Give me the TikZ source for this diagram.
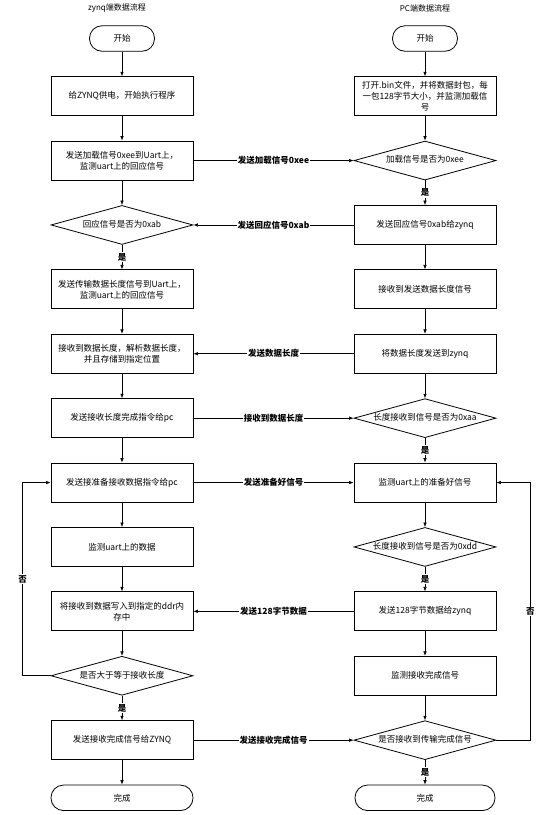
\documentclass[tikz,border=0pt]{standalone}
\usepackage{fontspec}
\setmainfont{Noto Sans CJK SC}
\usepackage{tikz}
\usetikzlibrary{arrows.meta,positioning,shapes.geometric}

\begin{document}
\begin{tikzpicture}[
  x=1pt, y=1pt,
  font=\fontsize{8.5}{11}\selectfont,
  node distance=24.6pt,
  box/.style={draw, line width=0.8pt, align=center, inner sep=2pt, minimum width=142pt, minimum height=39pt},
  term/.style={draw, line width=0.8pt, rounded corners=12.5pt, minimum width=65pt, minimum height=25.5pt, inner sep=2pt},
  dec/.style={draw, line width=0.8pt, diamond, aspect=3.64, inner sep=0pt, text height=6pt, text depth=1.5pt, minimum width=142pt, minimum height=39pt},
  arr/.style={-{Latex[length=4.5pt,width=3.5pt]}, line width=0.6pt},
  lbl/.style={fill=white, inner sep=1pt, font=\fontsize{8.5}{10}\selectfont\bfseries},
  ttl/.style={font=\fontsize{8}{10}\selectfont}
]
  \useasboundingbox (0,0) rectangle (555,-815);

  % zynq side
  \node[term] (lstart) at (122,-38.5) {开始};
  \node[ttl, above=9.5pt of lstart, xshift=-5pt] (ltitle) {zynq端数据流程};
  \node[box, below=of lstart] (lbox1) {给ZYNQ供电，开始执行程序};
  \node[box, below=of lbox1] (lbox2) {发送加载信号0xee到Uart上，\\监测uart上的回应信号};
  \node[dec, below=of lbox2] (ldia1) {回应信号是否为0xab};
  \node[box, below=of ldia1] (lbox3) {发送传输数据长度信号到Uart上，\\监测uart上的回应信号};
  \node[box, below=of lbox3] (lbox4) {接收到数据长度，解析数据长度，\\并且存储到指定位置};
  \node[box, below=of lbox4] (lbox5) {发送接收长度完成指令给pc};
  \node[box, below=of lbox5] (lbox6) {发送接准备接收数据指令给pc};
  \node[box, below=of lbox6] (lbox7) {监测uart上的数据};
  \node[box, below=of lbox7] (lbox8) {将接收到数据写入到指定的ddr内\\存中};
  \node[dec, below=of lbox8] (ldia2) {是否大于等于接收长度};
  \node[box, below=of ldia2] (lbox9) {发送接收完成信号给ZYNQ};
  \node[term, below=of lbox9, minimum width=142pt] (lend) {完成};

  % PC side
  \node[term, right=237.2pt of lstart] (rstart) {开始};
  \node[ttl, above=9.5pt of rstart] (rtitle) {PC端数据流程};
  \node[box, below=of rstart] (rbox1) {打开.bin文件，并将数据封包，每\\一包128字节大小，并监测加载信\\号};
  \node[dec, below=of rbox1] (rdia1) {加载信号是否为0xee};
  \node[box, below=of rdia1] (rbox2) {发送回应信号0xab给zynq};
  \node[box, below=of rbox2] (rbox3) {接收到发送数据长度信号};
  \node[box, below=of rbox3] (rbox4) {将数据长度发送到zynq};
  \node[dec, below=of rbox4] (rdia2) {长度接收到信号是否为0xaa};
  \node[box, below=of rdia2] (rbox5) {监测uart上的准备好信号};
  \node[dec, below=of rbox5] (rdia3) {长度接收到信号是否为0xdd};
  \node[box, below=of rdia3] (rbox6) {发送128字节数据给zynq};
  \node[box, below=of rbox6] (rbox7) {监测接收完成信号};
  \node[dec, below=of rbox7] (rdia4) {是否接收到传输完成信号};
  \node[term, below=of rdia4, minimum width=140pt] (rend) {完成};

  % zynq flow
  \draw[arr] (lstart) -- (lbox1);
  \draw[arr] (lbox1) -- (lbox2);
  \draw[arr] (lbox2) -- (ldia1);
  \draw[arr] (ldia1) -- node[lbl]{是} (lbox3);
  \draw[arr] (lbox3) -- (lbox4);
  \draw[arr] (lbox4) -- (lbox5);
  \draw[arr] (lbox5) -- (lbox6);
  \draw[arr] (lbox6) -- (lbox7);
  \draw[arr] (lbox7) -- (lbox8);
  \draw[arr] (lbox8) -- (ldia2);
  \draw[arr] (ldia2) -- node[lbl]{是} (lbox9);
  \draw[arr] (lbox9) -- (lend);
  \draw[arr] (ldia2.west) -- ++(-28pt,0) |- node[lbl, pos=0.25]{否} (lbox6.west);

  % PC flow
  \draw[arr] (rstart) -- (rbox1);
  \draw[arr] (rbox1) -- (rdia1);
  \draw[arr] (rdia1) -- node[lbl]{是} (rbox2);
  \draw[arr] (rbox2) -- (rbox3);
  \draw[arr] (rbox3) -- (rbox4);
  \draw[arr] (rbox4) -- (rdia2);
  \draw[arr] (rdia2) -- node[lbl]{是} (rbox5);
  \draw[arr] (rbox5) -- (rdia3);
  \draw[arr] (rdia3) -- node[lbl]{是} (rbox6);
  \draw[arr] (rbox6) -- (rbox7);
  \draw[arr] (rbox7) -- (rdia4);
  \draw[arr] (rdia4) -- node[lbl]{是} (rend);
  \draw[arr] (rdia4.east) -- ++(34pt,0) |- node[lbl, pos=0.25]{否} (rbox5.east);

  % messages between the two sides
  \draw[arr] (lbox2.east) -- node[lbl]{发送加载信号0xee} (rdia1.west);
  \draw[arr] (rbox2.west) -- node[lbl]{发送回应信号0xab} (ldia1.east);
  \draw[arr] (rbox4.west) -- node[lbl]{发送数据长度} (lbox4.east);
  \draw[arr] (lbox5.east) -- node[lbl]{接收到数据长度} (rdia2.west);
  \draw[arr] (lbox6.east) -- node[lbl]{发送准备好信号} (rbox5.west);
  \draw[arr] (rbox6.west) -- node[lbl]{发送128字节数据} (lbox8.east);
  \draw[arr] (lbox9.east) -- node[lbl]{发送接收完成信号} (rdia4.west);
\end{tikzpicture}
\end{document}
